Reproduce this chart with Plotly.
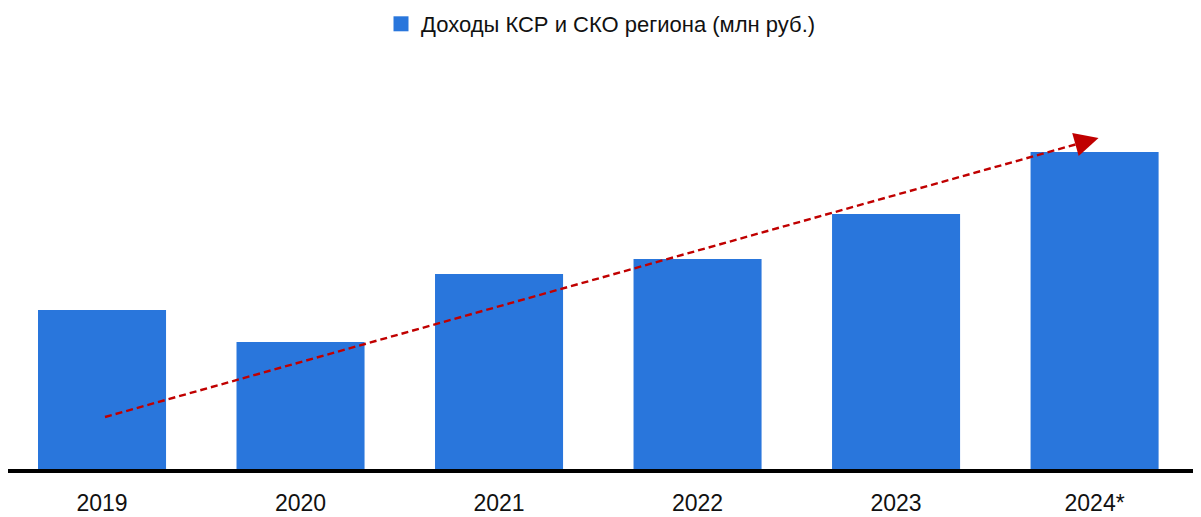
import plotly.graph_objects as go

years = ["2019", "2020", "2021", "2022", "2023", "2024*"]
income = [159, 127, 195, 210, 255, 317]
series_name = "Доходы КСР и СКО региона (млн руб.)"

# trend arrow (start and tip, in data units)
trend_x = [0.015, 5.02]
trend_y = [52, 331]

FONT = "Liberation Sans, Arial, sans-serif"
BAR = "#2976DC"
RED = "#C00000"

W, H = 1193, 509  # page body has an 8px margin

fig = go.Figure()
fig.add_trace(go.Bar(
    x=list(range(len(years))), y=income, name=series_name,
    marker=dict(color=BAR, line=dict(width=0)),
    hoverinfo="skip", showlegend=False,
))
# legend entry with a larger square swatch
fig.add_trace(go.Scatter(
    x=[None], y=[None], mode="markers", name=series_name,
    marker=dict(symbol="square", size=15, color=BAR),
    showlegend=True, hoverinfo="skip",
))

# dashed shaft (stops a bit before the tip, where the head is drawn)
frac = 0.985
shaft_x = [trend_x[0], trend_x[0] + (trend_x[1] - trend_x[0]) * frac]
shaft_y = [trend_y[0], trend_y[0] + (trend_y[1] - trend_y[0]) * frac]
fig.add_trace(go.Scatter(
    x=shaft_x, y=shaft_y, mode="lines",
    line=dict(color=RED, width=2.4, dash="7px,4px"),
    showlegend=False, hoverinfo="skip",
))
slope = (trend_y[1] - trend_y[0]) / (trend_x[1] - trend_x[0])
fig.add_annotation(
    x=trend_x[1], y=trend_y[1], xref="x", yref="y",
    ax=trend_x[1] - 0.1, ay=trend_y[1] - 0.1 * slope,
    axref="x", ayref="y",
    showarrow=True, arrowhead=2, arrowsize=2.4, arrowwidth=2, arrowcolor=RED,
    text="",
)

fig.update_layout(
    width=W, height=H,
    margin=dict(l=0, r=3, t=52, b=48),
    paper_bgcolor="white", plot_bgcolor="white",
    bargap=0.355,
    font=dict(family=FONT, color="#111111"),
    showlegend=True,
    legend=dict(
        orientation="h",
        xref="container", x=593 / W, xanchor="center",
        yref="container", y=1 - 16 / H, yanchor="middle",
        font=dict(size=22, family=FONT, color="#111111"),
        itemwidth=30,
    ),
    xaxis=dict(
        tickmode="array", tickvals=list(range(len(years))), ticktext=years,
        range=[-0.4736, 5.521],
        showline=True, linecolor="black", linewidth=4,
        showgrid=False, zeroline=False, ticks="",
        ticklabelstandoff=10,
        tickfont=dict(size=23, family=FONT, color="#111111"),
    ),
    yaxis=dict(
        range=[0, 409], visible=False, showgrid=False, zeroline=False,
    ),
)

fig.write_html("out.html")
